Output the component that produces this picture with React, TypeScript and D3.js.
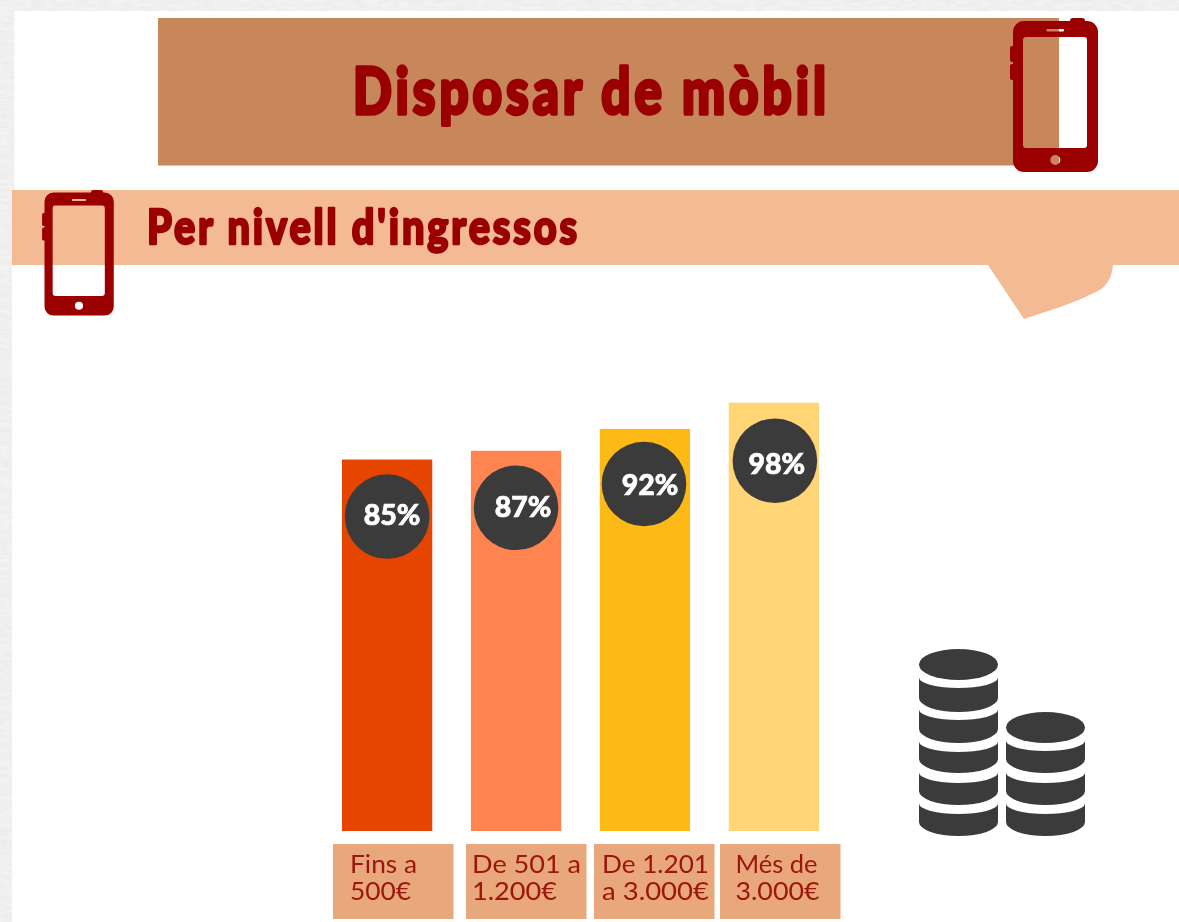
import React from "react";
import * as d3 from "d3";

const WIDTH = 1179;
const HEIGHT = 922;

// ---- data ----
const categories = ["Fins a 500€", "De 501 a 1.200€", "De 1.201 a 3.000€", "Més de 3.000€"];
const percentages = [85, 87, 92, 98];
const barColors = ["#E64505", "#FF8450", "#FDB913", "#FFD576"];
const labelLines = [
  ["Fins a", "500€"],
  ["De 501 a", "1.200€"],
  ["De 1.201", "a 3.000€"],
  ["Més de", "3.000€"],
];
const titleText = "Disposar de mòbil";
const subtitleText = "Per nivell d'ingressos";

// ---- layout ----
const BASELINE = 831;
const PX_PER_100 = 437;
const boxLeft = [333, 466, 594, 720];
const boxTextX = [350, 472, 602, 735.5];
const lineWidth1 = [67, 109, 107, 82];
const lineWidth2 = [61, 85, 107, 84];
const bubbleDx = [0, 0, -1, 1];
const bubbleDy = [57, 57, 55, 58];
const labelDx = [5, 7, 6, 2];
const labelBase = [8, 9, 11, 13];

const x = d3.scaleBand<string>().domain(categories).range([342, 819]).paddingInner(0.3).paddingOuter(0);
const y = d3.scaleLinear().domain([0, 100]).range([BASELINE, BASELINE - PX_PER_100]);

const DARK = "#3A3A3A";
const RED = "#9B0000";

const rr = (x0: number, y0: number, w: number, h: number, r: number) => {
  const p = d3.path();
  p.moveTo(x0 + r, y0);
  p.arcTo(x0 + w, y0, x0 + w, y0 + h, r);
  p.arcTo(x0 + w, y0 + h, x0, y0 + h, r);
  p.arcTo(x0, y0 + h, x0, y0, r);
  p.arcTo(x0, y0, x0 + w, y0, r);
  p.closePath();
  return p.toString();
};

const circ = (cx: number, cy: number, r: number) => {
  const p = d3.path();
  p.moveTo(cx + r, cy);
  p.arc(cx, cy, r, 0, Math.PI * 2);
  p.closePath();
  return p.toString();
};

const phoneBody =
  rr(0, 0, 85, 151, 11) +
  rr(10, 16, 64, 111, 3) +
  rr(33.5, 8, 17.5, 2.5, 1) +
  circ(42.3, 139, 5);

function Phone({ tx, ty, s }: { tx: number; ty: number; s: number }) {
  return (
    <g transform={`translate(${tx},${ty}) scale(${s})`} fill={RED}>
      <path d={phoneBody} fillRule="evenodd" />
      <path d={rr(-3, 25, 5, 16, 2)} />
      <path d={rr(-3, 43, 5, 16, 2)} />
      <path d={rr(57, -3, 15, 7, 3)} />
    </g>
  );
}

function Coin({ cx, top, bottom }: { cx: number; top: number; bottom: number }) {
  const rx = 39.5;
  const ryTop = 10.5;
  const ryBottom = 14;
  const d = `M${cx - rx},${top - ryTop} A${rx},${ryTop} 0 0 0 ${cx + rx},${top - ryTop} L${cx + rx},${bottom - ryBottom} A${rx},${ryBottom} 0 0 1 ${cx - rx},${bottom - ryBottom} Z`;
  return <path d={d} fill={DARK} />;
}

function Stack({ cx, topY, tops, bottoms }: { cx: number; topY: number; tops: number[]; bottoms: number[] }) {
  return (
    <g>
      <ellipse cx={cx} cy={topY} rx={39.5} ry={15.5} fill={DARK} />
      {tops.map((t, i) => (
        <Coin key={i} cx={cx} top={t} bottom={bottoms[i]} />
      ))}
    </g>
  );
}

export default function App() {
  return (
    <svg
      width={WIDTH}
      height={HEIGHT}
      viewBox={`0 0 ${WIDTH} ${HEIGHT}`}
      style={{ position: "fixed", left: 0, top: 0, display: "block" }}
    >
      <defs>
        <filter id="paper" x="0" y="0" width="100%" height="100%">
          <feTurbulence type="fractalNoise" baseFrequency="0.09 0.3" numOctaves={3} seed={4} />
          <feColorMatrix
            type="matrix"
            values="0 0 0 0 0.72  0 0 0 0 0.72  0 0 0 0 0.72  0.7 0 0 0 -0.2"
          />
          <feComposite in2="SourceGraphic" operator="over" />
        </filter>
        <filter id="soft" x="-2%" y="-2%" width="104%" height="104%">
          <feGaussianBlur stdDeviation="0.55" />
        </filter>
      </defs>

      <rect width={WIDTH} height={HEIGHT} fill="#F3F3F3" filter="url(#paper)" />
      <rect x={14.5} y={11} width={WIDTH - 14.5} height={180} fill="#FFFFFF" />
      <rect x={12} y={190} width={WIDTH - 12} height={HEIGHT - 190} fill="#FFFFFF" />

      <g filter="url(#soft)">
        {/* banners */}
        <rect x={158} y={18} width={901} height={147.5} fill="#C8875A" />
        <path d="M12,190 H1179 V265 H1113 C1112,277 1107,286 1098,291 C1075,303 1045,312 1024,319 L988,265 H12 Z" fill="#F3BA94" />

        <Phone tx={1013} ty={21} s={1} />
        <Phone tx={44.5} ty={192.5} s={0.815} />

        <text
          x={353}
          y={113.5}
          textLength={477}
          lengthAdjust="spacingAndGlyphs"
          fontFamily="Lato"
          fontWeight={900}
          fontSize={64}
          letterSpacing={5}
          fill={RED}
          stroke={RED}
          strokeWidth={3.5}
          strokeLinejoin="round"
        >
          {titleText}
        </text>
        <text
          x={147}
          y={244}
          textLength={433}
          lengthAdjust="spacingAndGlyphs"
          fontFamily="Lato"
          fontWeight={900}
          fontSize={48}
          letterSpacing={3.5}
          fill={RED}
          stroke={RED}
          strokeWidth={2.5}
          strokeLinejoin="round"
        >
          {subtitleText}
        </text>

        {/* bars */}
        {categories.map((c, i) => (
          <rect
            key={c}
            x={x(c)}
            y={y(percentages[i])}
            width={x.bandwidth()}
            height={BASELINE - y(percentages[i])}
            fill={barColors[i]}
          />
        ))}

        {/* bubbles */}
        {categories.map((c, i) => {
          const cx = (x(c) as number) + x.bandwidth() / 2 + bubbleDx[i];
          const cy = y(percentages[i]) + bubbleDy[i];
          return (
            <g key={c}>
              <circle cx={cx} cy={cy} r={42.3} fill={DARK} />
              <text
                x={cx + labelDx[i]}
                y={cy + labelBase[i]}
                textAnchor="middle"
                fontFamily="Lato"
                fontWeight={900}
                fontSize={28.5}
                fill="#FFFFFF"
                stroke="#FFFFFF"
                strokeWidth={0.7}
              >
                {percentages[i]}%
              </text>
            </g>
          );
        })}

        {/* category boxes */}
        {categories.map((c, i) => (
          <g key={c}>
            <rect x={boxLeft[i]} y={844} width={120.5} height={75} fill="#E8A87C" />
            <text fontFamily="Lato" fontSize={25} fill="#9C1208">
              {labelLines[i].map((line, j) => (
                <tspan
                  key={j}
                  x={boxTextX[i]}
                  y={873 + j * 27}
                  textLength={j === 0 ? lineWidth1[i] : lineWidth2[i]}
                  lengthAdjust="spacingAndGlyphs"
                >
                  {line}
                </tspan>
              ))}
            </text>
          </g>
        ))}

        {/* coins */}
        <Stack cx={958.5} topY={664.5} tops={[688, 720, 752, 783, 814]} bottoms={[712, 743, 773, 805, 836]} />
        <Stack cx={1045.5} topY={727.5} tops={[751, 783, 814]} bottoms={[773, 805, 836]} />
      </g>
    </svg>
  );
}
